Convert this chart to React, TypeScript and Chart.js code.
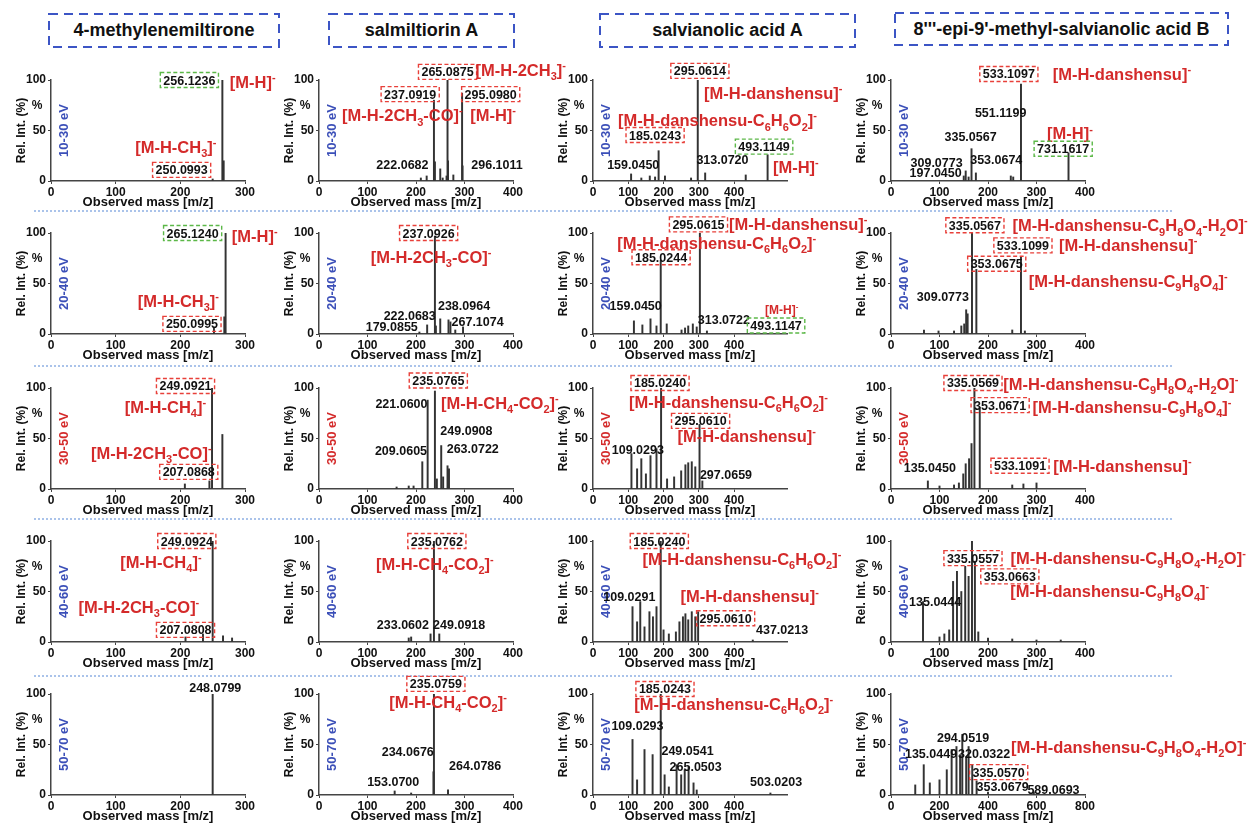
import React, { useEffect, useRef } from 'react';
import { Chart, registerables } from 'chart.js';

Chart.register(...registerables);

const FONT = "'Liberation Sans', Arial, Helvetica, sans-serif";

// ---------- text content ----------
const compounds = ['4-methylenemiltirone', 'salmiltiorin A', 'salvianolic acid A', "8'''-epi-9'-methyl-salvianolic acid B"];
const energies = ['10-30 eV', '20-40 eV', '30-50 eV', '40-60 eV', '50-70 eV'];
const xAxisMax = [300, 400, 550, 400];

// ---------- peak data (m/z, relative intensity %) ----------
const mzR1C1 = [250, 265, 267];
const intR1C1 = [2, 100, 20];
const mzR1C2 = [210, 222, 237, 239, 250, 255, 263, 265, 266, 277, 295, 296];
const intR1C2 = [3, 5, 80, 19, 12, 3, 5, 100, 20, 6, 87, 15];
const mzR1C3 = [108, 137, 161, 176, 186, 204, 278, 297, 318, 433, 495];
const intR1C3 = [7, 3, 5, 4, 30, 5, 3, 100, 8, 6, 26];
const mzR1C4 = [150, 154, 160, 166, 175, 247, 252, 268, 366];
const intR1C4 = [5, 10, 4, 32, 8, 5, 4, 96, 28];

const mzR2C1 = [252, 268, 270];
const intR2C1 = [6, 17, 100];
const mzR2C2 = [207, 223, 239, 241, 250, 267, 271, 281, 297];
const intR2C2 = [2, 9, 97, 8, 15, 14, 12, 4, 7];
const mzR2C3 = [116, 140, 163, 180, 192, 209, 251, 261, 270, 283, 294, 303, 323];
const intR2C3 = [13, 9, 15, 8, 73, 10, 4, 6, 8, 10, 7, 100, 3];
const mzR2C4 = [68, 98, 130, 145, 151, 155, 158, 167, 176, 250, 268, 276];
const intR2C4 = [4, 3, 3, 8, 10, 24, 20, 100, 64, 4, 76, 3];

const mzR3C1 = [207, 245, 249, 265];
const intR3C1 = [5, 8, 100, 54];
const mzR3C2 = [160, 185, 195, 213, 224, 239, 243, 252, 256, 265, 268];
const intR3C2 = [2, 3, 3, 27, 88, 97, 10, 43, 12, 23, 20];
const mzR3C3 = [109, 125, 137, 150, 163, 180, 193, 210, 230, 250, 262, 270, 280, 290, 302, 310];
const intR3C3 = [35, 20, 30, 15, 33, 40, 100, 10, 12, 18, 24, 26, 27, 22, 64, 8];
const mzR3C4 = [76, 100, 130, 140, 149, 154, 161, 166, 172, 183, 250, 273, 300];
const intR3C4 = [8, 3, 4, 6, 15, 25, 30, 45, 100, 81, 4, 5, 6];

const mzR4C1 = [208, 235, 250, 266, 280];
const intR4C1 = [5, 8, 100, 6, 4];
const mzR4C2 = [185, 190, 230, 237, 248];
const intR4C2 = [4, 5, 8, 100, 8];
const mzR4C3 = [112, 125, 134, 146, 160, 170, 180, 192, 200, 215, 235, 245, 255, 262, 270, 280, 290, 298, 453];
const intR4C3 = [35, 20, 40, 15, 30, 25, 35, 100, 12, 8, 10, 20, 25, 28, 22, 30, 25, 30, 2];
const mzR4C4 = [66, 100, 110, 120, 128, 136, 145, 153, 160, 167, 173, 180, 200, 250, 300, 350];
const intR4C4 = [40, 5, 8, 12, 60, 70, 50, 75, 65, 100, 80, 10, 4, 3, 2, 2];

const mzR5C1 = [250];
const intR5C1 = [100];
const mzR5C2 = [156, 190, 236, 237, 266];
const intR5C2 = [4, 2, 23, 100, 5];
const mzR5C3 = [112, 125, 146, 169, 192, 203, 215, 237, 250, 260, 271, 285, 294, 503];
const intR5C3 = [55, 15, 45, 40, 100, 20, 8, 30, 20, 25, 28, 12, 5, 2];
const mzR5C4 = [100, 135, 160, 200, 230, 250, 270, 285, 294, 310, 320, 335, 353, 400, 589];
const intR5C4 = [10, 30, 12, 15, 25, 45, 48, 40, 60, 38, 48, 30, 14, 3, 3];

// ---------- peak labels (anchored in data units) ----------
// k: 'ion' red ion name, 'ionS' small red ion name, 'mr' red-boxed mass, 'mg' green-boxed mass, 'm' plain mass
const labR1C1 = [
  { t: '256.1236', x: 214, y: 100, k: 'mg' },
  { t: '[M-H]^-', x: 312, y: 98, k: 'ion' },
  { t: '[M-H-CH_3]^-', x: 193, y: 34, k: 'ion' },
  { t: '250.0993', x: 202, y: 11, k: 'mr' },
];
const labR1C2 = [
  { t: '265.0875', x: 265, y: 108, k: 'mr' },
  { t: '[M-H-2CH_3]^-', x: 416, y: 110, k: 'ion' },
  { t: '237.0919', x: 188, y: 86, k: 'mr' },
  { t: '[M-H-2CH_3-CO]^-', x: 172, y: 65, k: 'ion' },
  { t: '295.0980', x: 354, y: 86, k: 'mr' },
  { t: '[M-H]^-', x: 359, y: 65, k: 'ion' },
  { t: '222.0682', x: 172, y: 16, k: 'm' },
  { t: '296.1011', x: 367, y: 16, k: 'm' },
];
const labR1C3 = [
  { t: '295.0614', x: 303, y: 109, k: 'mr' },
  { t: '[M-H-danshensu]^-', x: 511, y: 87, k: 'ion' },
  { t: '[M-H-danshensu-C_6H_6O_2]^-', x: 353, y: 60, k: 'ion' },
  { t: '185.0243', x: 176, y: 45.5, k: 'mr' },
  { t: '493.1149', x: 485, y: 34, k: 'mg' },
  { t: '[M-H]^-', x: 575, y: 13.5, k: 'ion' },
  { t: '159.0450', x: 114, y: 16, k: 'm' },
  { t: '313.0720', x: 367, y: 21, k: 'm' },
];
const labR1C4 = [
  { t: '533.1097', x: 243, y: 106, k: 'mr' },
  { t: '[M-H-danshensu]^-', x: 476, y: 106, k: 'ion' },
  { t: '551.1199', x: 226, y: 68, k: 'm' },
  { t: '335.0567', x: 164, y: 44, k: 'm' },
  { t: '[M-H]^-', x: 369, y: 47, k: 'ion' },
  { t: '731.1617', x: 355, y: 32, k: 'mg' },
  { t: '309.0773', x: 94, y: 18.5, k: 'm' },
  { t: '353.0674', x: 217, y: 21, k: 'm' },
  { t: '197.0450', x: 92, y: 8, k: 'm' },
];
const labR2C1 = [
  { t: '265.1240', x: 219, y: 100, k: 'mg' },
  { t: '[M-H]^-', x: 315, y: 97, k: 'ion' },
  { t: '[M-H-CH_3]^-', x: 197, y: 33, k: 'ion' },
  { t: '250.0995', x: 218, y: 10, k: 'mr' },
];
const labR2C2 = [
  { t: '237.0926', x: 226, y: 100, k: 'mr' },
  { t: '[M-H-2CH_3-CO]^-', x: 231, y: 76, k: 'ion' },
  { t: '222.0683', x: 187, y: 18.5, k: 'm' },
  { t: '238.0964', x: 299, y: 28, k: 'm' },
  { t: '179.0855', x: 150, y: 7, k: 'm' },
  { t: '267.1074', x: 327, y: 12, k: 'm' },
];
const labR2C3 = [
  { t: '295.0615', x: 299, y: 108.5, k: 'mr' },
  { t: '[M-H-danshensu]^-', x: 582, y: 109, k: 'ion' },
  { t: '[M-H-danshensu-C_6H_6O_2]^-', x: 351, y: 90, k: 'ion' },
  { t: '185.0244', x: 193, y: 76, k: 'mr' },
  { t: '159.0450', x: 121, y: 28, k: 'm' },
  { t: '313.0722', x: 371, y: 14.6, k: 'm' },
  { t: '[M-H]^-', x: 535, y: 24, k: 'ionS' },
  { t: '493.1147', x: 519, y: 8.4, k: 'mg' },
];
const labR2C4 = [
  { t: '335.0567', x: 173, y: 107.6, k: 'mr' },
  { t: '[M-H-danshensu-C_9H_8O_4-H_2O]^-', x: 493, y: 107.6, k: 'ion' },
  { t: '533.1099', x: 272, y: 87.7, k: 'mr' },
  { t: '[M-H-danshensu]^-', x: 489, y: 87.7, k: 'ion' },
  { t: '353.0675', x: 218, y: 69.6, k: 'mr' },
  { t: '[M-H-danshensu-C_9H_8O_4]^-', x: 489, y: 52.4, k: 'ion' },
  { t: '309.0773', x: 107, y: 37, k: 'm' },
];
const labR3C1 = [
  { t: '249.0921', x: 208, y: 102, k: 'mr' },
  { t: '[M-H-CH_4]^-', x: 177, y: 81, k: 'ion' },
  { t: '[M-H-2CH_3-CO]^-', x: 155, y: 36, k: 'ion' },
  { t: '207.0868', x: 213, y: 17, k: 'mr' },
];
const labR3C2 = [
  { t: '235.0765', x: 246, y: 107.5, k: 'mr' },
  { t: '221.0600', x: 170, y: 85, k: 'm' },
  { t: '[M-H-CH_4-CO_2]^-', x: 373, y: 85, k: 'ion' },
  { t: '249.0908', x: 304, y: 58, k: 'm' },
  { t: '209.0605', x: 169, y: 38, k: 'm' },
  { t: '263.0722', x: 317, y: 40, k: 'm' },
];
const labR3C3 = [
  { t: '185.0240', x: 190, y: 105, k: 'mr' },
  { t: '[M-H-danshensu-C_6H_6O_2]^-', x: 384, y: 86, k: 'ion' },
  { t: '295.0610', x: 305, y: 67.5, k: 'mr' },
  { t: '[M-H-danshensu]^-', x: 436, y: 52, k: 'ion' },
  { t: '109.0293', x: 127, y: 39, k: 'm' },
  { t: '297.0659', x: 377, y: 14.4, k: 'm' },
];
const labR3C4 = [
  { t: '335.0569', x: 169, y: 105, k: 'mr' },
  { t: '[M-H-danshensu-C_9H_8O_4-H_2O]^-', x: 474, y: 104, k: 'ion' },
  { t: '353.0671', x: 225, y: 83, k: 'mr' },
  { t: '[M-H-danshensu-C_9H_8O_4]^-', x: 497, y: 81, k: 'ion' },
  { t: '135.0450', x: 80, y: 21, k: 'm' },
  { t: '533.1091', x: 266, y: 23, k: 'mr' },
  { t: '[M-H-danshensu]^-', x: 477, y: 23, k: 'ion' },
];
const labR4C1 = [
  { t: '249.0924', x: 210, y: 100, k: 'mr' },
  { t: '[M-H-CH_4]^-', x: 170, y: 79.5, k: 'ion' },
  { t: '[M-H-2CH_3-CO]^-', x: 136, y: 35, k: 'ion' },
  { t: '207.0808', x: 208, y: 12, k: 'mr' },
];
const labR4C2 = [
  { t: '235.0762', x: 243, y: 100, k: 'mr' },
  { t: '[M-H-CH_4-CO_2]^-', x: 239, y: 77, k: 'ion' },
  { t: '233.0602', x: 173, y: 17.5, k: 'm' },
  { t: '249.0918', x: 289, y: 17, k: 'm' },
];
const labR4C3 = [
  { t: '185.0240', x: 188, y: 100, k: 'mr' },
  { t: '[M-H-danshensu-C_6H_6O_2]^-', x: 422, y: 82, k: 'ion' },
  { t: '109.0291', x: 103, y: 45, k: 'm' },
  { t: '[M-H-danshensu]^-', x: 444, y: 45, k: 'ion' },
  { t: '295.0610', x: 376, y: 23.5, k: 'mr' },
  { t: '437.0213', x: 536, y: 12, k: 'm' },
];
const labR4C4 = [
  { t: '335.0557', x: 169, y: 83, k: 'mr' },
  { t: '[M-H-danshensu-C_9H_8O_4-H_2O]^-', x: 489, y: 83, k: 'ion' },
  { t: '353.0663', x: 245, y: 65, k: 'mr' },
  { t: '[M-H-danshensu-C_9H_8O_4]^-', x: 451, y: 50.5, k: 'ion' },
  { t: '135.0444', x: 91, y: 40, k: 'm' },
];
const labR5C1 = [{ t: '248.0799', x: 254, y: 106, k: 'm' }];
const labR5C2 = [
  { t: '235.0759', x: 241, y: 110, k: 'mr' },
  { t: '[M-H-CH_4-CO_2]^-', x: 266, y: 92, k: 'ion' },
  { t: '234.0676', x: 183, y: 43, k: 'm' },
  { t: '264.0786', x: 322, y: 29, k: 'm' },
  { t: '153.0700', x: 153, y: 13, k: 'm' },
];
const labR5C3 = [
  { t: '185.0243', x: 204, y: 105, k: 'mr' },
  { t: '[M-H-danshensu-C_6H_6O_2]^-', x: 399, y: 90, k: 'ion' },
  { t: '109.0293', x: 126, y: 69, k: 'm' },
  { t: '249.0541', x: 268, y: 43.6, k: 'm' },
  { t: '265.0503', x: 291, y: 28.7, k: 'm' },
  { t: '503.0203', x: 519, y: 13, k: 'm' },
];
const labR5C4 = [
  { t: '294.0519', x: 297, y: 57, k: 'm' },
  { t: '135.0449', x: 165, y: 40.6, k: 'm' },
  { t: '320.0322', x: 384, y: 40.6, k: 'm' },
  { t: '[M-H-danshensu-C_9H_8O_4-H_2O]^-', x: 980, y: 47.8, k: 'ion' },
  { t: '335.0570', x: 444, y: 22.6, k: 'mr' },
  { t: '353.0679', x: 460, y: 8, k: 'm' },
  { t: '589.0693', x: 670, y: 5.6, k: 'm' },
];

const peakTable = [
  [[mzR1C1, intR1C1, labR1C1], [mzR1C2, intR1C2, labR1C2], [mzR1C3, intR1C3, labR1C3], [mzR1C4, intR1C4, labR1C4]],
  [[mzR2C1, intR2C1, labR2C1], [mzR2C2, intR2C2, labR2C2], [mzR2C3, intR2C3, labR2C3], [mzR2C4, intR2C4, labR2C4]],
  [[mzR3C1, intR3C1, labR3C1], [mzR3C2, intR3C2, labR3C2], [mzR3C3, intR3C3, labR3C3], [mzR3C4, intR3C4, labR3C4]],
  [[mzR4C1, intR4C1, labR4C1], [mzR4C2, intR4C2, labR4C2], [mzR4C3, intR4C3, labR4C3], [mzR4C4, intR4C4, labR4C4]],
  [[mzR5C1, intR5C1, labR5C1], [mzR5C2, intR5C2, labR5C2], [mzR5C3, intR5C3, labR5C3], [mzR5C4, intR5C4, labR5C4]],
] as any[];

// ---------- layout ----------
const AXIS_X = [51, 319, 593, 891];
const ROW_TOP = [80, 233, 388, 541, 694];
const PLOT_W = 194;
const PLOT_H = 101;
const PAD_TOP = 30;
const Y_AXIS_W = 49;
const X_AXIS_H = 36;
const RIGHT_PAD = [62, 72, 100, 172];
const SEPARATORS = [211, 366, 519, 676];
const HEADER_BOXES = [
  [49, 14, 230, 33],
  [329, 14, 185, 33],
  [600, 14, 255, 33],
  [895, 13, 333, 32],
];

const RED = '#d42a2a';
const BLUE = '#3b4fb8';

function parseRich(t: string) {
  const segs: { s: string; k: string }[] = [];
  let buf = '';
  for (let i = 0; i < t.length; i++) {
    const c = t[i];
    if (c === '_' || c === '^') {
      if (buf) { segs.push({ s: buf, k: 'n' }); buf = ''; }
      let j = i + 1;
      let s = '';
      if (c === '_') {
        while (j < t.length && /[0-9]/.test(t[j])) { s += t[j]; j++; }
      } else { s = t[j]; j++; }
      segs.push({ s, k: c === '_' ? 'sub' : 'sup' });
      i = j - 1;
    } else buf += c;
  }
  if (buf) segs.push({ s: buf, k: 'n' });
  return segs;
}

function drawRich(ctx: CanvasRenderingContext2D, t: string, cx: number, cy: number, size: number, color: string) {
  const segs = parseRich(t);
  const small = Math.round(size * 0.66);
  const fN = `bold ${size}px ${FONT}`;
  const fS = `bold ${small}px ${FONT}`;
  let w = 0;
  for (const s of segs) { ctx.font = s.k === 'n' ? fN : fS; w += ctx.measureText(s.s).width; }
  let x = cx - w / 2;
  const base = cy + size * 0.36;
  ctx.textAlign = 'left';
  ctx.textBaseline = 'alphabetic';
  ctx.fillStyle = color;
  for (const s of segs) {
    ctx.font = s.k === 'n' ? fN : fS;
    const dy = s.k === 'sub' ? size * 0.26 : s.k === 'sup' ? -size * 0.42 : 0;
    ctx.fillText(s.s, x, base + dy);
    x += ctx.measureText(s.s).width;
  }
  return w;
}

const decorPlugin = {
  id: 'decor',
  afterDraw(chart: any, _args: any, opts: any) {
    const { ctx, chartArea: a, scales } = chart;
    const xs = scales.x;
    const ys = scales.y;
    ctx.save();
    ctx.fillStyle = '#111';
    ctx.textAlign = 'center';
    ctx.textBaseline = 'middle';
    // y title
    ctx.save();
    ctx.font = `bold 12px ${FONT}`;
    ctx.translate(a.left - 29, (a.top + a.bottom) / 2);
    ctx.rotate(-Math.PI / 2);
    ctx.fillText('Rel. Int. (%)', 0, 0);
    ctx.restore();
    // % marker
    ctx.font = `bold 12px ${FONT}`;
    ctx.fillText('%', a.left - 14, ys.getPixelForValue(75));
    // x title
    ctx.font = `bold 13px ${FONT}`;
    ctx.fillText('Observed mass [m/z]', (a.left + a.right) / 2, a.bottom + 21);
    // energy label
    ctx.save();
    ctx.font = `bold 13px ${FONT}`;
    ctx.fillStyle = opts.energyColor;
    ctx.translate(a.left + 13, ys.getPixelForValue(50));
    ctx.rotate(-Math.PI / 2);
    ctx.textAlign = 'center';
    ctx.textBaseline = 'middle';
    ctx.fillText(opts.energy, 0, 0);
    ctx.restore();
    // peak labels
    for (const l of opts.labels) {
      const px = xs.getPixelForValue(l.x);
      const py = ys.getPixelForValue(l.y);
      if (l.k === 'ion') {
        drawRich(ctx, l.t, px, py, 16.5, RED);
      } else if (l.k === 'ionS') {
        drawRich(ctx, l.t, px, py, 12, RED);
      } else {
        const w = drawRich(ctx, l.t, px, py, 12.5, '#111');
        if (l.k === 'mr' || l.k === 'mg') {
          ctx.save();
          ctx.strokeStyle = l.k === 'mr' ? '#e8403a' : '#5cb848';
          ctx.lineWidth = 1.4;
          ctx.setLineDash([4, 2.5]);
          ctx.strokeRect(px - w / 2 - 3, py - 7.5, w + 6, 15);
          ctx.restore();
        }
      }
    }
    ctx.restore();
  },
};

function Panel({ row, col }: { row: number; col: number }) {
  const ref = useRef<HTMLCanvasElement>(null);
  const [mz, inten, labels] = peakTable[row][col];
  const xmax = row === 4 && col === 3 ? 800 : xAxisMax[col];
  const step = xmax === 800 ? 200 : 100;
  const W = Y_AXIS_W + PLOT_W + RIGHT_PAD[col];
  const H = PAD_TOP + PLOT_H + X_AXIS_H;
  const left = AXIS_X[col] - Y_AXIS_W;
  const top = ROW_TOP[row] - PAD_TOP;

  useEffect(() => {
    const tickFont = { family: FONT, weight: 'bold' as const, size: 12 };
    const chart = new Chart(ref.current!, {
      type: 'bar',
      data: {
        datasets: [
          {
            data: mz.map((m: number, i: number) => ({ x: m, y: inten[i] })),
            backgroundColor: '#333333',
            borderWidth: 0,
            barThickness: 1.3,
          } as any,
        ],
      },
      options: {
        animation: false,
        responsive: false,
        maintainAspectRatio: false,
        layout: { padding: { top: PAD_TOP, right: RIGHT_PAD[col], left: 0, bottom: 0 } },
        plugins: {
          legend: { display: false },
          tooltip: { enabled: false },
          decor: {
            energy: energies[row],
            energyColor: row === 2 ? RED : BLUE,
            labels,
          },
        } as any,
        scales: {
          x: {
            type: 'linear',
            min: 0,
            max: xmax,
            offset: false,
            grid: { display: true, drawOnChartArea: false, drawTicks: true, tickLength: 3, color: '#444', offset: false },
            border: { display: true, color: '#444', width: 1.5 },
            ticks: { stepSize: step, font: tickFont, color: '#111', padding: 1, maxRotation: 0, autoSkip: false },
            afterBuildTicks: (axis: any) => {
              axis.ticks = axis.ticks.filter((t: any) => t.value % step === 0);
            },
            afterFit: (s: any) => { s.height = X_AXIS_H; },
          },
          y: {
            min: 0,
            max: 100,
            grid: { display: true, drawOnChartArea: false, drawTicks: true, tickLength: 3, color: '#444' },
            border: { display: true, color: '#444', width: 1.5 },
            ticks: { stepSize: 50, font: tickFont, color: '#111', padding: 2 },
            afterFit: (s: any) => { s.width = Y_AXIS_W; },
          },
        } as any,
      },
      plugins: [decorPlugin as any],
    });
    return () => chart.destroy();
  }, []);

  return (
    <canvas
      ref={ref}
      width={W}
      height={H}
      style={{ position: 'absolute', left, top, width: W, height: H }}
    />
  );
}

export default function App() {
  const panels: React.ReactNode[] = [];
  for (let r = 0; r < 5; r++) for (let c = 0; c < 4; c++) panels.push(<Panel key={`${r}-${c}`} row={r} col={c} />);
  return (
    <div style={{ position: 'absolute', left: 0, top: 0, width: 1257, height: 823, background: '#fff', overflow: 'hidden', fontFamily: FONT }}>
      <svg width={1257} height={823} style={{ position: 'absolute', left: 0, top: 0 }}>
        {HEADER_BOXES.map((b, i) => (
          <rect key={'h' + i} x={b[0]} y={b[1]} width={b[2]} height={b[3]} fill="none" stroke="#3c55c5" strokeWidth={2} strokeDasharray="9 6" />
        ))}
        {SEPARATORS.map((y, i) => (
          <line key={'s' + i} x1={34} x2={1174} y1={y} y2={y} stroke="#8fb0e3" strokeWidth={1.5} strokeDasharray="2 2" />
        ))}
      </svg>
      {HEADER_BOXES.map((b, i) => (
        <div
          key={'t' + i}
          style={{
            position: 'absolute', left: b[0], top: b[1], width: b[2], height: b[3],
            display: 'flex', alignItems: 'center', justifyContent: 'center',
            fontWeight: 'bold', fontSize: 18, color: '#111', whiteSpace: 'nowrap',
          }}
        >
          {compounds[i]}
        </div>
      ))}
      {panels}
    </div>
  );
}
